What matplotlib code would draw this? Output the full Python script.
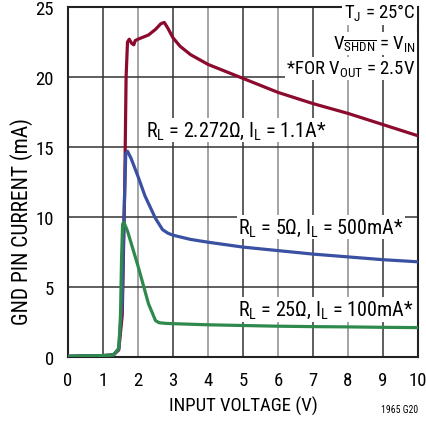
import matplotlib
matplotlib.use('Agg')
from matplotlib import pyplot as plt

plt.rcParams['font.family'] = ['Roboto Condensed', 'DejaVu Sans']
plt.rcParams['mathtext.fontset'] = 'custom'
plt.rcParams['mathtext.rm'] = 'Roboto Condensed'

# input voltage (V) vs GND pin current (mA)
x_red = [0, 0.5, 1.0, 1.3, 1.45, 1.55, 1.62, 1.66, 1.70, 1.75, 1.82, 1.88, 1.92, 2.0, 2.1,
         2.3, 2.5, 2.65, 2.75, 2.85, 3.0, 3.2, 3.5, 4.0, 4.5, 5, 6, 7, 8, 9, 10]
y_red = [0.05, 0.08, 0.1, 0.15, 0.5, 3, 12, 20, 22.5, 22.7, 22.4, 22.3, 22.6, 22.7, 22.8,
         23.0, 23.4, 23.8, 23.9, 23.5, 22.8, 22.2, 21.6, 20.9, 20.4, 19.9, 18.9, 18.1, 17.4, 16.6, 15.8]

x_blue = [0, 0.5, 1, 1.3, 1.45, 1.55, 1.6, 1.65, 1.7, 1.8, 2.0, 2.2, 2.5, 2.7, 2.85, 3,
          3.5, 4, 5, 6, 7, 8, 9, 10]
y_blue = [0.05, 0.08, 0.1, 0.15, 0.6, 4, 10, 14.5, 14.7, 14.2, 12.9, 11.5, 9.9, 9.1, 8.85, 8.7,
          8.4, 8.2, 7.85, 7.6, 7.35, 7.15, 6.95, 6.8]

x_green = [0, 0.5, 1, 1.3, 1.45, 1.5, 1.53, 1.56, 1.6, 1.7, 2.0, 2.3, 2.5, 2.6, 2.8, 3,
           4, 5, 6, 7, 8, 9, 10]
y_green = [0.05, 0.08, 0.1, 0.15, 0.6, 3, 7, 9.5, 9.6, 9.0, 6.5, 3.8, 2.6, 2.45, 2.4, 2.38,
           2.3, 2.25, 2.2, 2.17, 2.15, 2.12, 2.1]

fig = plt.figure(figsize=(4.26, 4.27), dpi=100)
ax = fig.add_axes([68/426, 69/427, 350/426, 350/427])

for v in range(1, 10):
    ax.axvline(v, color='#333333' if v % 2 else '#8c8c8c', lw=1.1, zorder=1)
for c in [5, 10, 15, 20]:
    ax.axhline(c, color='#333333', lw=1.1, zorder=1)

ax.plot(x_red, y_red, color='#8b0a2e', lw=2.3, zorder=3)
ax.plot(x_blue, y_blue, color='#3a50a2', lw=2.3, zorder=4)
ax.plot(x_green, y_green, color='#2e8a4c', lw=2.3, zorder=5)

ax.set_xlim(0, 10)
ax.set_ylim(0, 25)
ax.set_xticks(range(0, 11))
ax.set_yticks([0, 5, 10, 15, 20, 25])
ax.tick_params(length=0, labelsize=13.5, pad=10)
for s in ax.spines.values():
    s.set_linewidth(1.5)
    s.set_color('#222222')

ax.set_xlabel('INPUT VOLTAGE (V)', fontsize=13.5)
ax.set_ylabel('GND PIN CURRENT (mA)', fontsize=15.5)
ax.xaxis.set_label_coords(0.5, -0.111)
ax.yaxis.set_label_coords(-0.10, 0.39)

box = dict(facecolor='white', edgecolor='none', pad=1)
ax.text(9.92, 24.6, 'T$_\\mathregular{J}$ = 25°C', ha='right', va='center', fontsize=13.5, bbox=box, zorder=6)
ax.text(9.92, 22.4, 'V$_{\\mathregular{\\overline{SHDN}}}$ = V$_\\mathregular{IN}$', ha='right', va='center',
        fontsize=13.5, bbox=box, zorder=6)
ax.text(9.92, 20.6, '*FOR V$_\\mathregular{OUT}$ = 2.5V', ha='right', va='center', fontsize=13.5, bbox=box, zorder=6)
ax.text(2.23, 16.2, 'R$_\\mathregular{L}$ = 2.272Ω, I$_\\mathregular{L}$ = 1.1A*', ha='left', va='center',
        fontsize=14.5, bbox=box, zorder=6)
ax.text(4.86, 9.3, 'R$_\\mathregular{L}$ = 5Ω, I$_\\mathregular{L}$ = 500mA*', ha='left', va='center',
        fontsize=14.5, bbox=box, zorder=6)
ax.text(4.86, 3.4, 'R$_\\mathregular{L}$ = 25Ω, I$_\\mathregular{L}$ = 100mA*', ha='left', va='center',
        fontsize=14.5, bbox=box, zorder=6)

fig.text(418/426, 1 - 410/427, '1965 G20', ha='right', va='center', fontsize=7)

plt.savefig('out.png', dpi=100)
